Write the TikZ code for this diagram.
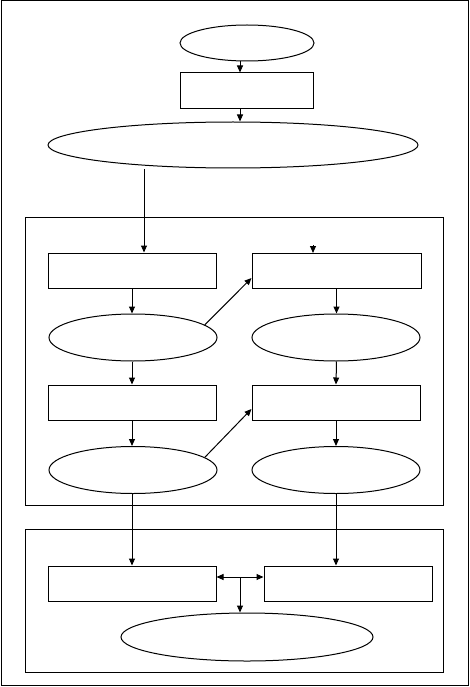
\documentclass[tikz,border=0pt]{standalone}
\usetikzlibrary{shapes.geometric,arrows.meta}
\begin{document}
\begin{tikzpicture}[x=1pt,y=-1pt,
  line width=1pt,
  arr/.style={-{Triangle[length=7pt,width=6pt]}},
  darr/.style={{Triangle[length=7pt,width=6pt]}-{Triangle[length=7pt,width=6pt]}},
  box/.style={draw,rectangle,inner sep=0pt,minimum width=#1,minimum height=35pt},
  oval/.style={draw,ellipse,inner sep=0pt},
  frame/.style={draw,rectangle,inner sep=0pt}]
\useasboundingbox (0,0) rectangle (469,687);
% frames
\node[frame,minimum width=467pt,minimum height=684pt] (outer) at (234.5,343) {};
\node[frame,minimum width=418pt,minimum height=288pt] (mid) at (234,361) {};
\node[frame,minimum width=418pt,minimum height=143pt] (low) at (234,600.5) {};
% top
\node[oval,minimum width=134pt,minimum height=36pt] (e1) at (247,43) {};
\node[box=133pt,minimum height=36pt] (r1) at (246.5,91) {};
\node[oval,minimum width=370pt,minimum height=46pt] (e2) at (233,145) {};
% left column
\node[box=168pt] (l1) at (132,270.5) {};
\node[oval,minimum width=168pt,minimum height=47pt] (le1) at (133,337.5) {};
\node[box=168pt] (l2) at (132,402.5) {};
\node[oval,minimum width=168pt,minimum height=47pt] (le2) at (133,470) {};
% right column
\node[box=169pt] (q1) at (336.5,271) {};
\node[oval,minimum width=168pt,minimum height=47pt] (re1) at (336,337.5) {};
\node[box=168pt] (q2) at (336,402.5) {};
\node[oval,minimum width=168pt,minimum height=47pt] (re2) at (336,470) {};
% bottom
\node[box=168pt] (b1) at (132,583.5) {};
\node[box=168pt] (b2) at (348,583.5) {};
\node[oval,minimum width=252pt,minimum height=48pt] (e3) at (247,637) {};
% connectors
\draw[arr] (240,0 |- e1.south) -- (240,0 |- r1.north);
\draw[arr] (240,0 |- r1.south) -- (240,0 |- e2.north);
\coordinate (s0) at (144,169);
\draw[arr] (s0) -- (s0 |- l1.north);
\coordinate (t0) at (313,245);
\draw[arr] (t0) -- (t0 |- q1.north);
\draw[arr] (l1.south) -- (l1.south |- le1.north);
\draw[arr] (l1.south |- le1.south) -- (l2.north);
\draw[arr] (l2.south) -- (l2.south |- le2.north);
\draw[arr] (q1.south) -- (q1.south |- re1.north);
\draw[arr] (q1.south |- re1.south) -- (q2.north);
\draw[arr] (q2.south) -- (q2.south |- re2.north);
\draw[arr] (le1.10) -- ([yshift=-7pt]q1.west);
\draw[arr] (le2.10) -- ([yshift=-6.5pt]q2.west);
\draw[arr] (l2.south |- le2.south) -- (b1.north);
\draw[arr] (q2.south |- re2.south) -- (q2.south |- b2.north);
\coordinate (m0) at (240,577);
\draw[darr] (b1.east |- m0) -- (b2.west |- m0);
\draw[arr] (m0) -- (m0 |- e3.north);
\end{tikzpicture}
\end{document}
